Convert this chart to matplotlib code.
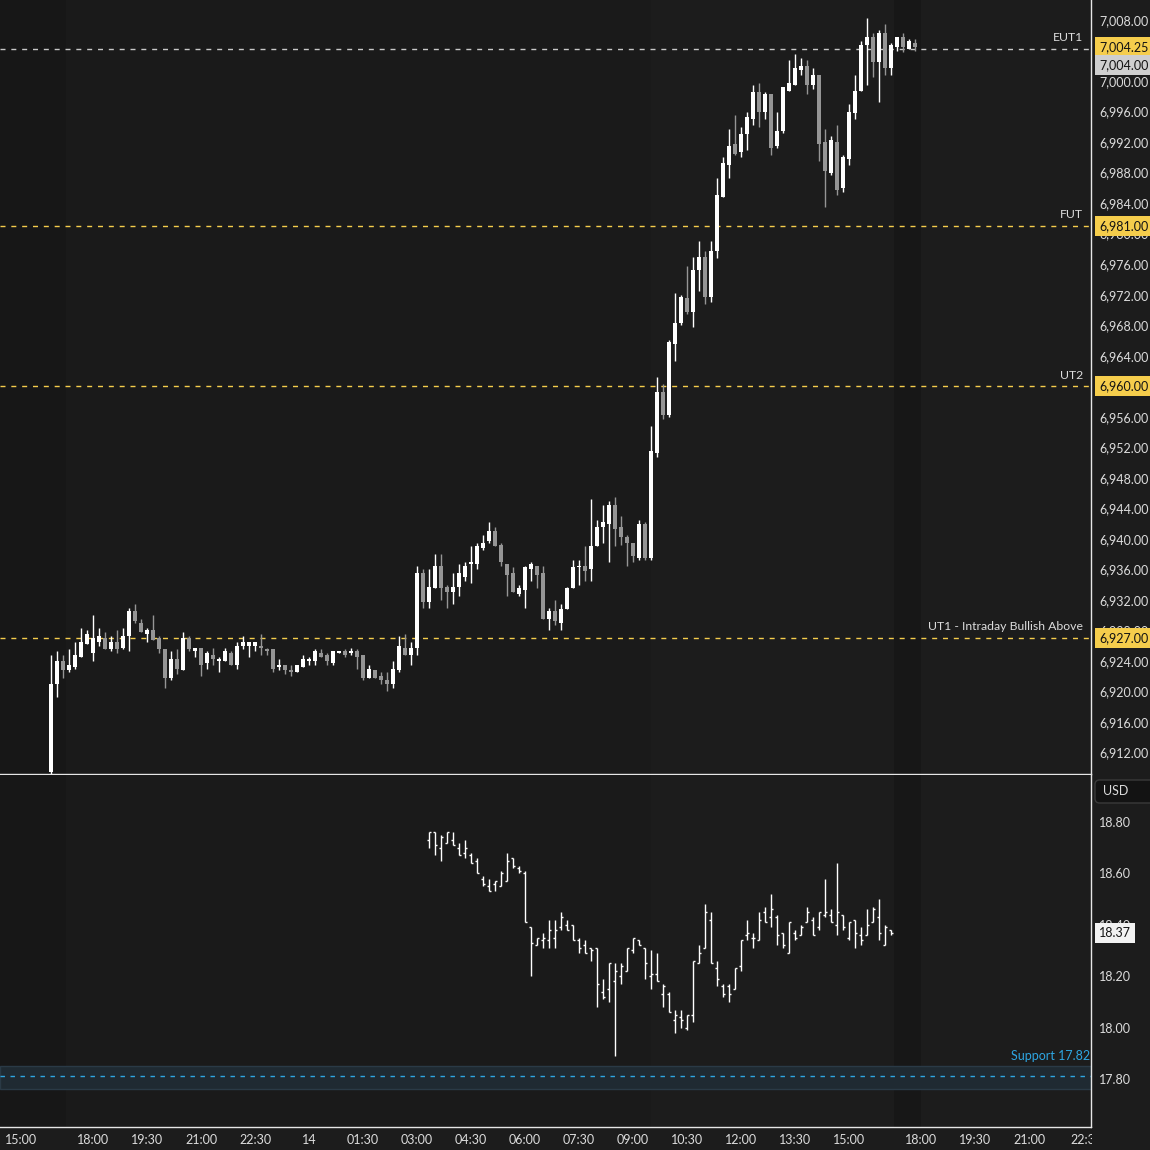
import numpy as np
import matplotlib.pyplot as plt
from matplotlib.patches import Rectangle, FancyBboxPatch

plt.rcParams['font.family'] = ['Lato', 'DejaVu Sans']

# ES 10 minute candles, bar 0 = 15:50 on day 1
es_open = [6909.5, 6921.0, 6924.0, 6922.75, 6923.25, 6924.5, 6926.25, 6925.0, 6926.5, 6927.0,
           6925.5, 6926.5, 6925.75, 6927.25, 6930.5, 6929.0, 6927.5, 6928.0, 6927.0, 6925.5,
           6921.75, 6924.25, 6922.75, 6927.0, 6925.25, 6925.75, 6923.75, 6924.75, 6924.0, 6924.0,
           6925.0, 6923.5, 6926.0, 6926.0, 6926.0, 6926.0, 6925.5, 6925.5, 6923.25, 6923.5,
           6922.75, 6922.5, 6923.25, 6924.0, 6924.0, 6925.0, 6924.75, 6923.75, 6925.0, 6925.25,
           6925.0, 6925.25, 6924.75, 6921.75, 6922.75, 6922.0, 6921.5, 6921.0, 6922.75, 6925.75,
           6924.75, 6925.75, 6935.5, 6931.75, 6933.5, 6936.5, 6933.75, 6933.0, 6933.75, 6935.0,
           6936.75, 6936.75, 6938.75, 6939.75, 6941.0, 6939.25, 6936.75, 6935.5, 6932.75, 6933.25,
           6936.0, 6936.5, 6935.5, 6929.5, 6930.5, 6929.0, 6930.75, 6933.5, 6936.25, 6936.5,
           6936.0, 6939.0, 6941.5, 6942.0, 6944.5, 6941.5, 6940.25, 6939.5, 6937.5, 6942.0,
           6937.5, 6951.25, 6959.25, 6956.25, 6965.5, 6968.25, 6971.5, 6969.75, 6975.25, 6977.0,
           6971.75, 6977.75, 6984.75, 6989.0, 6991.75, 6990.75, 6993.0, 6995.0, 6998.5, 6996.0,
           6998.25, 6991.5, 6993.5, 6998.75, 6999.5, 7001.5, 7002.0, 6999.5, 7000.75, 6992.0,
           6988.0, 6992.0, 6986.0, 6989.75, 6995.75, 6998.75, 7004.75, 7005.75, 7002.5, 7006.25,
           7001.75, 7004.5, 7005.75, 7004.25, 7005.0]
es_high = [6924.75, 6925.25, 6924.75, 6925.5, 6926.5, 6928.25, 6928.0, 6930.0, 6928.25, 6927.75,
           6927.25, 6928.0, 6928.25, 6931.0, 6931.5, 6929.5, 6928.25, 6930.0, 6927.25, 6925.5,
           6925.25, 6925.5, 6927.75, 6927.25, 6925.75, 6925.75, 6925.25, 6925.75, 6924.5, 6925.75,
           6925.25, 6926.5, 6927.25, 6926.5, 6926.5, 6927.5, 6925.75, 6925.5, 6924.25, 6923.5,
           6923.5, 6923.5, 6924.75, 6924.5, 6925.5, 6925.5, 6925.0, 6925.25, 6925.25, 6925.5,
           6925.75, 6925.5, 6924.75, 6923.5, 6922.75, 6922.5, 6922.5, 6924.0, 6927.25, 6927.5,
           6926.5, 6936.5, 6936.0, 6936.0, 6938.0, 6938.0, 6934.0, 6935.5, 6936.75, 6937.0,
           6939.0, 6939.5, 6940.5, 6942.25, 6941.5, 6939.5, 6936.75, 6936.25, 6934.0, 6936.5,
           6937.0, 6936.5, 6936.5, 6931.0, 6932.0, 6931.5, 6933.75, 6937.25, 6937.25, 6939.0,
           6945.25, 6942.5, 6944.5, 6945.0, 6945.5, 6943.0, 6940.5, 6939.5, 6942.5, 6942.25,
           6954.75, 6961.25, 6960.25, 6966.0, 6972.25, 6972.0, 6975.75, 6977.0, 6979.0, 6977.75,
           6979.0, 6987.25, 6990.0, 6993.75, 6995.5, 6994.0, 6996.0, 6999.5, 6999.75, 6998.5,
           6998.25, 6996.0, 6999.25, 7002.75, 7003.5, 7003.0, 7002.75, 7001.75, 7000.75, 6993.75,
           6992.75, 6994.25, 6990.25, 6997.0, 7000.75, 7005.25, 7008.25, 7006.25, 7006.75, 7007.5,
           7005.0, 7005.75, 7006.25, 7005.5, 7005.5]
es_low = [6909.0, 6919.25, 6921.75, 6922.5, 6923.0, 6924.5, 6926.25, 6924.0, 6926.0, 6925.5,
          6925.25, 6925.0, 6925.5, 6925.25, 6929.0, 6927.75, 6926.5, 6926.75, 6925.0, 6920.5,
          6921.5, 6922.25, 6922.75, 6925.25, 6924.5, 6922.0, 6923.0, 6923.5, 6922.5, 6924.0,
          6923.5, 6923.0, 6925.5, 6924.5, 6925.25, 6924.75, 6924.75, 6922.5, 6922.75, 6922.25,
          6922.0, 6922.5, 6923.25, 6923.5, 6923.5, 6924.5, 6923.5, 6923.5, 6925.0, 6924.5,
          6924.75, 6923.0, 6921.5, 6921.75, 6921.75, 6921.0, 6920.0, 6920.5, 6922.5, 6924.75,
          6923.5, 6924.75, 6931.0, 6931.0, 6933.5, 6932.0, 6931.0, 6931.5, 6932.5, 6934.5,
          6934.25, 6936.0, 6938.5, 6939.5, 6939.0, 6936.5, 6932.5, 6933.0, 6932.5, 6931.0,
          6934.5, 6933.5, 6929.5, 6928.0, 6928.75, 6928.0, 6930.75, 6933.5, 6934.0, 6934.5,
          6934.5, 6939.0, 6939.5, 6937.0, 6939.0, 6939.25, 6936.5, 6937.0, 6937.25, 6937.25,
          6937.25, 6950.75, 6955.75, 6956.0, 6963.25, 6968.0, 6969.5, 6967.75, 6972.5, 6970.75,
          6971.0, 6976.75, 6984.75, 6987.25, 6990.25, 6990.0, 6991.0, 6994.25, 6994.0, 6995.0,
          6990.25, 6991.25, 6993.25, 6998.75, 6999.5, 7000.75, 6998.25, 6999.0, 6989.5, 6983.5,
          6987.75, 6985.0, 6985.5, 6989.0, 6995.0, 6998.75, 6999.5, 7000.5, 6997.25, 7000.75,
          7000.75, 7004.0, 7003.75, 7004.25, 7004.0]
es_close = [6921.0, 6924.0, 6922.75, 6923.5, 6924.75, 6926.5, 6927.5, 6927.0, 6927.25, 6925.5,
            6926.5, 6925.5, 6927.25, 6930.5, 6929.25, 6927.75, 6928.0, 6926.75, 6925.5, 6921.75,
            6924.25, 6923.0, 6927.0, 6925.5, 6925.75, 6923.5, 6925.0, 6924.25, 6924.25, 6925.25,
            6923.5, 6926.0, 6926.5, 6926.5, 6926.5, 6925.75, 6925.25, 6923.0, 6923.5, 6922.75,
            6922.5, 6923.5, 6924.25, 6924.25, 6925.25, 6924.5, 6924.0, 6925.25, 6925.25, 6924.75,
            6925.25, 6924.5, 6921.75, 6923.0, 6921.75, 6921.5, 6921.0, 6923.0, 6926.0, 6924.75,
            6925.75, 6935.5, 6931.75, 6933.75, 6936.5, 6933.5, 6933.0, 6933.75, 6935.5, 6936.5,
            6937.0, 6939.0, 6939.5, 6941.0, 6939.0, 6937.0, 6935.25, 6933.0, 6933.5, 6936.25,
            6936.75, 6935.25, 6929.5, 6930.5, 6929.25, 6930.75, 6933.5, 6936.25, 6936.5, 6935.75,
            6939.0, 6941.5, 6942.25, 6944.5, 6941.25, 6940.25, 6939.5, 6937.75, 6942.0, 6937.5,
            6951.5, 6959.25, 6956.25, 6965.75, 6968.25, 6971.75, 6969.75, 6975.25, 6977.0, 6971.75,
            6977.75, 6985.0, 6989.25, 6991.5, 6990.5, 6993.0, 6995.25, 6998.5, 6996.0, 6998.25,
            6991.25, 6993.5, 6999.25, 6999.75, 7001.75, 7002.0, 6999.5, 7000.75, 6991.75, 6988.25,
            6992.25, 6985.75, 6990.0, 6996.0, 6998.75, 7004.75, 7005.75, 7002.5, 7006.25, 7001.75,
            7004.75, 7005.75, 7004.5, 7005.25, 7004.5]

# VIX bars, first bar sits on ES bar 63
vix_first = 63
vix_open = [18.73, 18.76, 18.70, 18.72, 18.73, 18.70, 18.68, 18.67, 18.65, 18.58,
            18.55, 18.56, 18.55, 18.57, 18.66, 18.62, 18.60, 18.39, 18.32, 18.34,
            18.34, 18.35, 18.39, 18.40, 18.40, 18.34, 18.32, 18.31, 18.31, 18.14,
            18.15, 18.18, 18.20, 18.22, 18.30, 18.34, 18.31, 18.20, 18.21, 18.13,
            18.13, 18.03, 18.04, 18.00, 18.05, 18.25, 18.31, 18.42, 18.23, 18.16,
            18.16, 18.15, 18.24, 18.36, 18.35, 18.34, 18.45, 18.43, 18.43, 18.37,
            18.29, 18.37, 18.36, 18.41, 18.42, 18.39, 18.44, 18.44, 18.40, 18.44,
            18.35, 18.42, 18.36, 18.36, 18.41, 18.43, 18.32, 18.38]
vix_high = [18.76, 18.76, 18.75, 18.76, 18.76, 18.72, 18.73, 18.68, 18.66, 18.59,
            18.58, 18.57, 18.61, 18.68, 18.66, 18.63, 18.61, 18.39, 18.35, 18.37,
            18.42, 18.42, 18.45, 18.42, 18.40, 18.35, 18.34, 18.31, 18.31, 18.19,
            18.25, 18.25, 18.25, 18.31, 18.35, 18.34, 18.31, 18.30, 18.29, 18.17,
            18.14, 18.07, 18.07, 18.05, 18.26, 18.32, 18.48, 18.45, 18.26, 18.17,
            18.17, 18.23, 18.34, 18.42, 18.37, 18.45, 18.47, 18.52, 18.44, 18.37,
            18.41, 18.38, 18.40, 18.47, 18.43, 18.45, 18.58, 18.46, 18.64, 18.44,
            18.41, 18.42, 18.39, 18.46, 18.47, 18.50, 18.40, 18.38]
vix_low = [18.70, 18.67, 18.65, 18.72, 18.71, 18.67, 18.66, 18.64, 18.60, 18.55,
           18.53, 18.53, 18.55, 18.57, 18.62, 18.60, 18.41, 18.20, 18.32, 18.31,
           18.31, 18.31, 18.38, 18.38, 18.34, 18.29, 18.29, 18.26, 18.08, 18.11,
           18.10, 17.89, 18.17, 18.22, 18.29, 18.32, 18.19, 18.15, 18.18, 18.08,
           18.06, 17.98, 18.00, 17.99, 18.02, 18.25, 18.31, 18.25, 18.16, 18.12,
           18.10, 18.15, 18.22, 18.34, 18.31, 18.34, 18.41, 18.39, 18.32, 18.31,
           18.29, 18.34, 18.36, 18.41, 18.36, 18.38, 18.43, 18.41, 18.36, 18.38,
           18.34, 18.31, 18.32, 18.36, 18.41, 18.34, 18.32, 18.36]
vix_close = [18.76, 18.71, 18.74, 18.76, 18.71, 18.67, 18.70, 18.64, 18.60, 18.56,
             18.53, 18.57, 18.60, 18.65, 18.63, 18.61, 18.41, 18.33, 18.35, 18.35,
             18.38, 18.38, 18.43, 18.38, 18.34, 18.31, 18.29, 18.30, 18.17, 18.12,
             18.25, 18.22, 18.24, 18.31, 18.35, 18.32, 18.25, 18.21, 18.18, 18.16,
             18.06, 18.05, 18.03, 18.05, 18.26, 18.29, 18.45, 18.25, 18.19, 18.13,
             18.13, 18.23, 18.34, 18.37, 18.35, 18.42, 18.41, 18.46, 18.36, 18.32,
             18.41, 18.35, 18.39, 18.45, 18.36, 18.45, 18.45, 18.41, 18.45, 18.39,
             18.41, 18.37, 18.34, 18.40, 18.46, 18.37, 18.39, 18.37]

level_names = ["EUT1", "FUT", "UT2", "UT1 - Intraday Bullish Above"]
level_values = [7004.25, 6981.00, 6960.00, 6927.00]
es_last = 7004.00
support_name = "Support 17.82"
support_line = 17.81
support_zone = [17.76, 17.85]

# (day, hh, mm) of time labels on the x axis
time_marks = [(0, 15, 0), (0, 18, 0), (0, 19, 30), (0, 21, 0), (0, 22, 30), (1, 0, 0),
              (1, 1, 30), (1, 3, 0), (1, 4, 30), (1, 6, 0), (1, 7, 30), (1, 9, 0),
              (1, 10, 30), (1, 12, 0), (1, 13, 30), (1, 15, 0), (1, 18, 0), (1, 19, 30),
              (1, 21, 0), (1, 22, 30)]
time_labels = ["15:00", "18:00", "19:30", "21:00", "22:30", "14", "01:30", "03:00",
               "04:30", "06:00", "07:30", "09:00", "10:30", "12:00", "13:30", "15:00",
               "18:00", "19:30", "21:00", "22:3"]


def bar_pos(day, hh, mm):
    # position in 10 minute bars, the 17:00-18:00 break is skipped
    m = day * 1440 + hh * 60 + mm
    gap = 0
    for brk in (17 * 60, 1440 + 17 * 60):
        if m >= brk + 60:
            gap += 60
        elif m > brk:
            gap += m - brk
    return (m - (15 * 60 + 50) - gap) / 10.0


bg = '#1c1c1c'
txt = '#dcdcdc'
yel = '#f5cd4c'
up_c = '#ffffff'
dn_c = '#959595'

fig = plt.figure(figsize=(11.5, 11.5), dpi=100, facecolor=bg)
W, H = 1150.0, 1150.0
ax1 = fig.add_axes([0, 1 - 774 / H, 1091 / W, 774 / H])
ax2 = fig.add_axes([0, 1 - 1127 / H, 1091 / W, (1127 - 775) / H], sharex=ax1)

for ax in (ax1, ax2):
    ax.set_facecolor(bg)
    for s in ['top', 'left']:
        ax.spines[s].set_visible(False)
    ax.spines['right'].set_color('#e6e6e6')
    ax.spines['bottom'].set_color('#e6e6e6')
    ax.spines['right'].set_linewidth(1)
    ax.spines['bottom'].set_linewidth(1)
    # session shading
    ax.axvspan(-9, bar_pos(0, 16, 15), color='#171717', lw=0, zorder=0)
    ax.axvspan(bar_pos(0, 16, 15), bar_pos(1, 9, 30), color='#1a1a1a', lw=0, zorder=0)
    ax.axvspan(bar_pos(1, 16, 15), bar_pos(1, 17, 0), color='#171717', lw=0, zorder=0)

# candles
o = np.array(es_open)
h = np.array(es_high)
l = np.array(es_low)
c = np.array(es_close)
x = np.arange(len(o))
cols = [up_c if cc >= oo else dn_c for oo, cc in zip(o, c)]
ax1.vlines(x, l, h, colors=cols, lw=1, zorder=3)
ax1.bar(x, np.maximum(np.abs(c - o), 0.14), bottom=np.minimum(o, c), width=0.82,
        color=cols, lw=0, zorder=4)

# levels
for name, v in zip(level_names, level_values):
    lc = '#c8c8c8' if name == "EUT1" else yel
    ax1.axhline(v, color=lc, lw=1, dashes=(3.6, 4.2), zorder=2)
    ax1.annotate(name, xy=(1083 / 1091, v), xycoords=('axes fraction', 'data'),
                 xytext=(0, 8), textcoords='offset points', ha='right', va='center',
                 fontsize=8.8, color=txt, zorder=6)

ax1.set_xlim(-8.5, 173.33)
ax1.set_ylim(6909.18, 7010.62)
ax1.yaxis.tick_right()
# 7004 and 6960 sit fully under the price tags
ax1.set_yticks([v for v in np.arange(6912, 7009, 4) if v not in (7004, 6960)])
ax1.yaxis.set_major_formatter(plt.FuncFormatter(lambda v, p: f"{v:,.2f}"))
ax1.tick_params(axis='y', length=0, pad=6, labelsize=9, labelcolor=txt)
ax1.tick_params(axis='x', length=0, labelbottom=False)


def tag(ax, v, text, fc, dy=0):
    ax.annotate(text, xy=(1, v), xycoords=('axes fraction', 'data'),
                xytext=(5.8, dy), textcoords='offset points', ha='left', va='center',
                fontsize=9, color='#131313', zorder=10, annotation_clip=False,
                bbox=dict(boxstyle='square,pad=0.32', fc=fc, ec='none'))


tag(ax1, level_values[0], f"{level_values[0]:,.2f}", yel, dy=1.2)
tag(ax1, es_last, f"{es_last:,.2f}", '#cfcfcf', dy=-10.4)
for v in level_values[1:]:
    tag(ax1, v, f"{v:,.2f}", yel)

# vix bars
vo = np.array(vix_open)
vh = np.array(vix_high)
vl = np.array(vix_low)
vc = np.array(vix_close)
xv = np.arange(len(vo)) + vix_first
ax2.vlines(xv, vl, vh, color='white', lw=1, zorder=4)
ax2.hlines(vo, xv - 0.4, xv, color='white', lw=1, zorder=4)
ax2.hlines(vc, xv, xv + 0.4, color='white', lw=1, zorder=4)

ax2.axhspan(support_zone[0], support_zone[1], fc='#1f2a32', ec='#2a3a46', lw=1, zorder=1)
ax2.axhline(support_line, color='#2ea6e2', lw=1, dashes=(3.2, 4.0), zorder=2)
ax2.annotate(support_name, xy=(1090 / 1091, support_line), xycoords=('axes fraction', 'data'),
             xytext=(0, 14.4), textcoords='offset points', ha='right', va='center',
             fontsize=9, color='#2ea6e2', zorder=6)

ax2.set_ylim(17.613, 18.983)
ax2.yaxis.tick_right()
ax2.set_yticks([17.8, 18.0, 18.2, 18.4, 18.6, 18.8])
ax2.yaxis.set_major_formatter(plt.FuncFormatter(lambda v, p: f"{v:.2f}"))
ax2.tick_params(axis='y', length=0, pad=6, labelsize=9, labelcolor=txt)
tag(ax2, vc[-1], f"{vc[-1]:.2f}", '#f2f2f2')

ax2.set_xticks([bar_pos(*t) for t in time_marks])
ax2.set_xticklabels(time_labels)
ax2.tick_params(axis='x', length=0, pad=5, labelsize=9, labelcolor=txt)

# currency box
fig.add_artist(FancyBboxPatch((1095 / W, 1 - 803 / H), 60 / W, 23 / H,
                              boxstyle='round,pad=0,rounding_size=0.004',
                              transform=fig.transFigure, fc='#131313', ec='#3a3a3a',
                              lw=1, zorder=5))
fig.text(1103 / W, 1 - 791 / H, "USD", ha='left', va='center', fontsize=9,
         color=txt, zorder=6)
# cover the price column under the time axis
fig.add_artist(Rectangle((1091.5 / W, 0), 60 / W, 22.5 / H, transform=fig.transFigure,
                         fc=bg, ec='none', zorder=4))

plt.savefig("out.png", dpi=100, facecolor=bg)
